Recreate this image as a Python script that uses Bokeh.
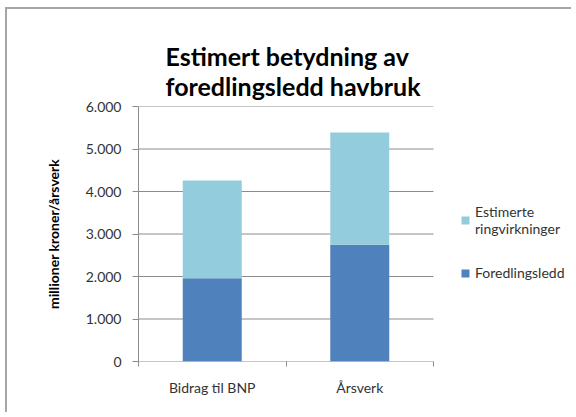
from bokeh.plotting import figure
from bokeh.models import ColumnDataSource, FixedTicker, Legend, LegendItem, Range1d
from bokeh.embed import file_html
from bokeh.resources import INLINE

# ---- data ----
categories = ["Bidrag til BNP", "Årsverk"]
foredlingsledd = [1960, 2745]
ringvirkninger = [2300, 2645]
series_labels = ["Foredlingsledd", "Estimerte\nringvirkninger"]
y_ticks = [0, 1000, 2000, 3000, 4000, 5000, 6000]
y_tick_labels = ["0", "1.000", "2.000", "3.000", "4.000", "5.000", "6.000"]
title_text = "Estimert betydning av\nforedlingsledd havbruk"
y_label = "millioner kroner/årsverk"

colors = ["#4F81BD", "#93CDDD"]
FONT = "Lato"
GRID = "#8c8c8c"

n = len(categories)
xs = [i + 0.5 for i in range(n)]
source = ColumnDataSource(dict(x=xs, fored=foredlingsledd, ring=ringvirkninger))

W, H = 566, 405
FRAME_LEFT, FRAME_TOP, FRAME_BOTTOM = 131, 97, 352
frame_w = W - FRAME_LEFT
cat_w = 295

# frame extends to the right so the legend can sit inside it
p = figure(width=W, height=H, output_backend="svg", toolbar_location=None,
           x_range=Range1d(0, n * frame_w / cat_w), y_range=Range1d(0, 6000),
           min_border_left=FRAME_LEFT, min_border_right=0, min_border_top=FRAME_TOP,
           min_border_bottom=H - FRAME_BOTTOM)
p.styles = {"margin-left": "5px", "margin-top": "7px",
            "border-left": "2px solid #a6a6a6", "border-top": "2px solid #a6a6a6"}

# gridlines limited to the category area
grid_src = ColumnDataSource(dict(x0=[0] * len(y_ticks), x1=[n] * len(y_ticks), y=y_ticks))
p.segment(x0="x0", y0="y", x1="x1", y1="y", source=grid_src, line_color=GRID, line_width=1)

renderers = p.vbar_stack(["fored", "ring"], x="x", width=0.4, source=source,
                         color=colors, line_color=None)

# title
p.title.text = title_text
p.title.text_font = FONT
p.title.text_font_size = "25px"
p.title.text_font_style = "bold"
p.title.text_color = "#000000"
p.title.align = "left"
p.title.vertical_align = "middle"
p.title.offset = 27
p.title.standoff = 10
p.title.text_line_height = 1.0

# x axis
xa = p.xaxis[0]
xa.ticker = FixedTicker(ticks=xs, minor_ticks=[float(i) for i in range(n + 1)])
xa.major_label_overrides = {x: c for x, c in zip(xs, categories)}
xa.major_tick_out = 0
xa.major_tick_in = 0
xa.minor_tick_out = 5
xa.minor_tick_in = 0
xa.minor_tick_line_color = GRID
xa.axis_line_color = None
xa.major_label_text_font = FONT
xa.major_label_text_font_size = "14px"
xa.major_label_text_color = "#333333"
xa.major_label_standoff = 12

# y axis
ya = p.yaxis[0]
ya.ticker = FixedTicker(ticks=y_ticks, minor_ticks=[])
ya.major_label_overrides = {t: l for t, l in zip(y_ticks, y_tick_labels)}
ya.major_tick_out = 6
ya.major_tick_in = 0
ya.major_tick_line_color = GRID
ya.axis_line_color = GRID
ya.major_label_text_font = FONT
ya.major_label_text_font_size = "14px"
ya.major_label_text_color = "#333333"
ya.major_label_standoff = 11
ya.axis_label = y_label
ya.axis_label_text_font = FONT
ya.axis_label_text_font_size = "14px"
ya.axis_label_text_font_style = "bold"
ya.axis_label_text_color = "#000000"
ya.axis_label_standoff = 21

p.xgrid.grid_line_color = None
p.ygrid.grid_line_color = None
p.outline_line_color = None

legend = Legend(items=[LegendItem(label=series_labels[1], renderers=[renderers[1]]),
                       LegendItem(label=series_labels[0], renderers=[renderers[0]])],
                location=(322, 80), padding=0, margin=0, spacing=27,
                glyph_width=10, glyph_height=10, label_standoff=5,
                label_text_font=FONT, label_text_font_size="14px",
                label_text_line_height=1.3,
                label_text_color="#333333", border_line_color=None,
                background_fill_alpha=0)
p.add_layout(legend, "center")

open("out.html", "w").write(file_html(p, INLINE))
